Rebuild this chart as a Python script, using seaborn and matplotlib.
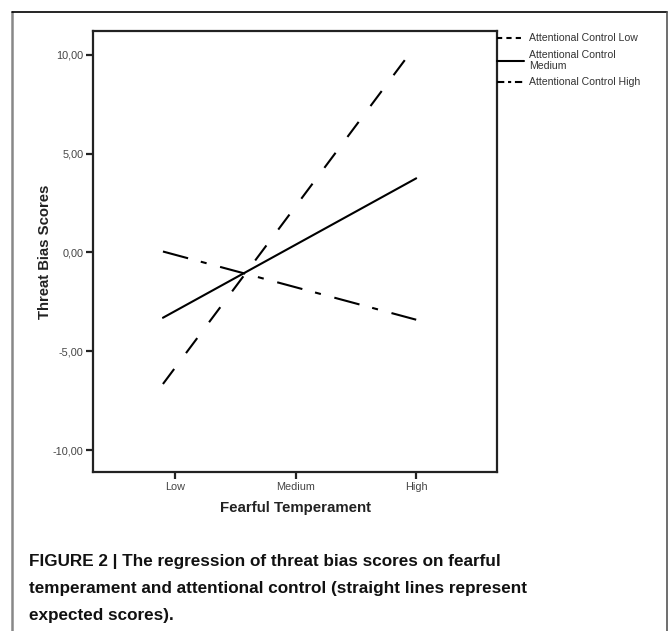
"""
plot.py - regression of threat bias scores on fearful temperament,
split by attentional control (SPSS-style line chart).
"""

import matplotlib
matplotlib.use("Agg")
import matplotlib.pyplot as plt
from matplotlib import font_manager
from matplotlib.lines import Line2D
import pandas as pd
import seaborn as sns

# data (Low=0, Medium=1, High=2 on the x axis)
fear_x = [-0.1, 2.0]
ac_low = [-6.65, 10.5]
ac_medium = [-3.3, 3.75]
ac_high = [0.05, -3.4]

groups = ["Attentional Control Low", "Attentional Control\nMedium", "Attentional Control High"]
x_ticks = [0, 1, 2]
x_labels = ["Low", "Medium", "High"]
y_ticks = [-10, -5, 0, 5, 10]

W, H, DPI = 671, 631, 100

sns.set_theme(style="white")
plt.rcParams["font.family"] = ["Liberation Sans", "DejaVu Sans"]


def has_font(name):
    try:
        font_manager.findfont(font_manager.FontProperties(family=name), fallback_to_default=False)
        return True
    except Exception:
        return False


df = pd.concat([
    pd.DataFrame({"fear": fear_x, "score": vals, "group": g})
    for g, vals in zip(groups, [ac_low, ac_medium, ac_high])
])

fig = plt.figure(figsize=(W / DPI, H / DPI), dpi=DPI)
ax = fig.add_axes([93 / W, 1 - 472 / H, (497 - 93) / W, (472 - 31) / H])

dash_map = {groups[0]: (9, 9.5), groups[1]: "", groups[2]: (12.5, 6.3, 2.9, 6.7)}
sns.lineplot(data=df, x="fear", y="score", style="group", dashes=dash_map,
             color="black", linewidth=1.5, sort=False, estimator=None,
             errorbar=None, legend=False, ax=ax)
for ln in ax.lines:
    ln.set_dash_capstyle("butt")

ax.set_xlim(-0.68, 2.67)
ax.set_ylim(-11.1, 11.2)
ax.set_xticks(x_ticks, x_labels)
ax.set_yticks(y_ticks, [f"{v:.2f}".replace(".", ",") for v in y_ticks])
ax.tick_params(axis="both", direction="out", length=5, width=1.6, color="#222222",
               labelsize=7.8, labelcolor="#444444", pad=2, left=True, bottom=True)
for sp in ax.spines.values():
    sp.set_visible(True)
    sp.set_color("#222222")
    sp.set_linewidth(1.6)
ax.set_xlabel("Fearful Temperament", fontsize=10.8, fontweight="bold", color="#222222", labelpad=7)
ax.set_ylabel("Threat Bias Scores", fontsize=10.7, fontweight="bold", color="#222222", labelpad=0.5)

# legend outside on the right, with compact dash patterns like SPSS
handles = [
    Line2D([], [], color="black", linewidth=1.5, dashes=(2.5, 2)),
    Line2D([], [], color="black", linewidth=1.5),
    Line2D([], [], color="black", linewidth=1.5, dashes=(3.5, 1.8, 1.5, 1.8)),
]
leg = ax.legend(handles, groups, loc="upper left", bbox_to_anchor=(1.0, 0.995),
                frameon=False, fontsize=7.6, handlelength=2.6, handletextpad=0.4,
                labelspacing=0.6, borderaxespad=0, borderpad=0)
for t in leg.get_texts():
    t.set_color("#333333")

# outer frame of the figure panel
fig.add_artist(Line2D([12 / W, 12 / W], [0, 1 - 12 / H], transform=fig.transFigure,
                      color="#888888", linewidth=1.8))
fig.add_artist(Line2D([12 / W, 667 / W], [1 - 12 / H, 1 - 12 / H], transform=fig.transFigure,
                      color="black", linewidth=1.2))
fig.add_artist(Line2D([667 / W, 667 / W], [0, 1 - 12 / H], transform=fig.transFigure,
                      color="#555555", linewidth=1.2))

caption = ("FIGURE 2 | The regression of threat bias scores on fearful\n"
           "temperament and attentional control (straight lines represent\n"
           "expected scores).")
if has_font("Liberation Sans Narrow"):
    cap_family, cap_size = ["Liberation Sans Narrow", "DejaVu Sans"], 13.5
else:
    cap_family, cap_size = ["Liberation Sans", "DejaVu Sans"], 12.3
fig.text(29 / W, 1 - 554 / H, caption, family=cap_family, fontsize=cap_size,
         fontweight="bold", color="#111111", va="top", ha="left", linespacing=1.98)

fig.savefig("out.png", dpi=DPI)
